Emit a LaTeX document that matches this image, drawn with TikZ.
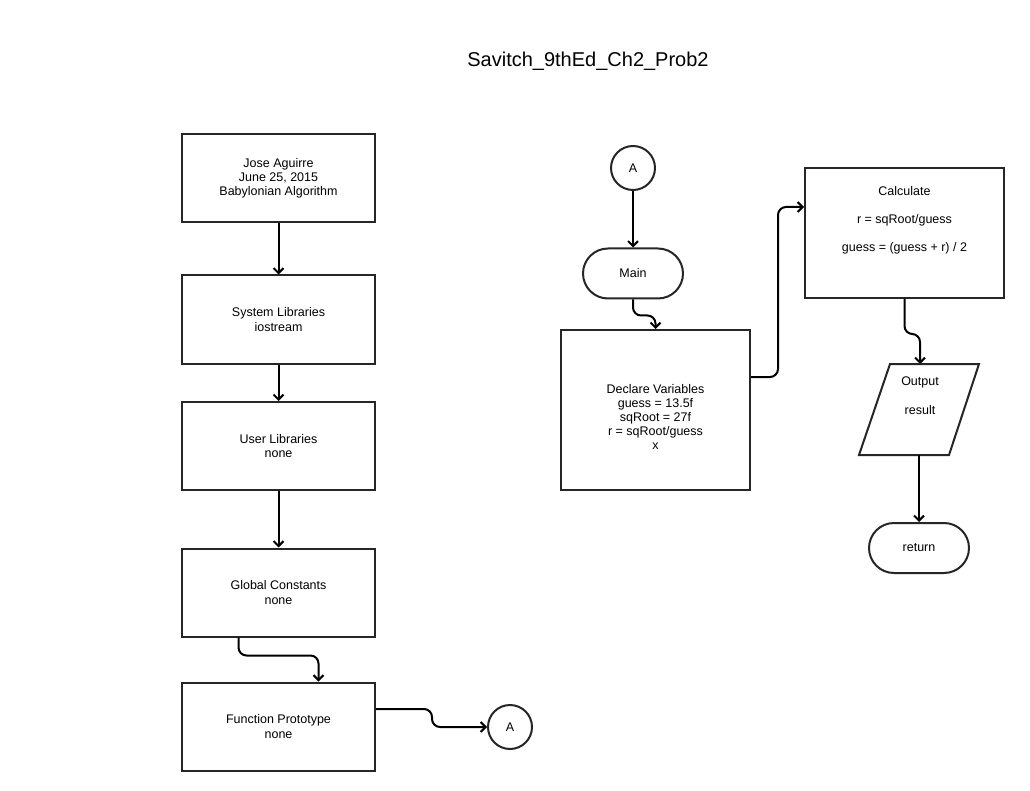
\documentclass[tikz,border=0pt]{standalone}
\usepackage{fontspec}
\setmainfont{Liberation Sans}
\usetikzlibrary{arrows.meta,shapes.misc}
\begin{document}
\begin{tikzpicture}[x=1pt,y=-1pt,
  box/.style={draw=black!85,line width=2pt,minimum width=193pt,minimum height=88pt,inner sep=0pt,align=center,font=\fontsize{12.5}{14.2}\selectfont},
  term/.style={draw=black!85,line width=2pt,rounded rectangle,minimum width=100pt,minimum height=50pt,inner sep=0pt,font=\fontsize{12.5}{14.2}\selectfont},
  conn/.style={draw=black!85,line width=2pt,circle,minimum size=44pt,inner sep=0pt,font=\fontsize{12.5}{14.2}\selectfont},
  txt/.style={align=center,inner sep=0pt,font=\fontsize{12.5}{14.2}\selectfont},
  arr/.style={line width=2pt,rounded corners=8pt,-{Straight Barb[length=5pt,width=10pt]}}]
\useasboundingbox[fill=white] (0,0) rectangle (1030,791);
\node[font=\fontsize{20}{24}\selectfont] (title) at (588,61) {Savitch\_9thEd\_Ch2\_Prob2};
% left column
\node[box] (b1) at (278.5,178) {Jose Aguirre\\June 25, 2015\\Babylonian Algorithm};
\node[box] (b2) at (278.5,319.5) {System Libraries\\iostream};
\node[box] (b3) at (278.5,446) {User Libraries\\none};
\node[box] (b4) at (278.5,592.5) {Global Constants\\none};
\node[box] (b5) at (278.5,726.5) {Function Prototype\\none};
\node[conn] (a1) at (510,727) {A};
\draw[arr] (b1.south) -- (b2.north);
\draw[arr] (b2.south) -- (b3.north);
\draw[arr] (b3.south) -- (b4.north);
\draw[arr] ([xshift=-40pt]b4.south) -- ++(0,18) -| ([xshift=40pt]b5.north);
\draw[arr] ([yshift=17.5pt]b5.east) -- ++(56,0) |- (a1.west);
% right part
\node[conn] (a2) at (633,168) {A};
\node[term] (main) at (633,273.5) {Main};
\node[box,minimum width=189pt,minimum height=160pt] (decl) at (655.5,410) {};
\node[txt] (decltxt) at (655.5,417) {Declare Variables\\guess = 13.5f\\sqRoot = 27f\\r = sqRoot/guess\\x};
\node[box,minimum width=199pt,minimum height=130pt] (calc) at (904.5,233) {};
\node[txt,font=\fontsize{12.5}{28}\selectfont] (calctxt) at (904.5,220) {Calculate\\r = sqRoot/guess\\guess = (guess + r) / 2};
% output parallelogram
\draw[black!85,line width=2pt,line join=miter] (890,364) -- (979,364) -- (949,455) -- (859,455) -- cycle;
\coordinate (outT) at (920,364);
\coordinate (outB) at (919,455);
\node[txt,font=\fontsize{12.5}{29}\selectfont] (outtxt) at (920,395.5) {Output\\result};
\node[term] (ret) at (919,548) {return};
\draw[arr] (a2.south) -- (main.north);
\draw[arr] (main.south) -- ++(0,16) -| (decl.north);
\draw[arr] ([yshift=33pt]decl.east) -- ++(27,0) |- ([yshift=26pt]calc.west);
\draw[arr] (calc.south) -- ++(0,35) -| (outT);
\draw[arr] (outB) -- (ret.north);
\end{tikzpicture}
\end{document}
